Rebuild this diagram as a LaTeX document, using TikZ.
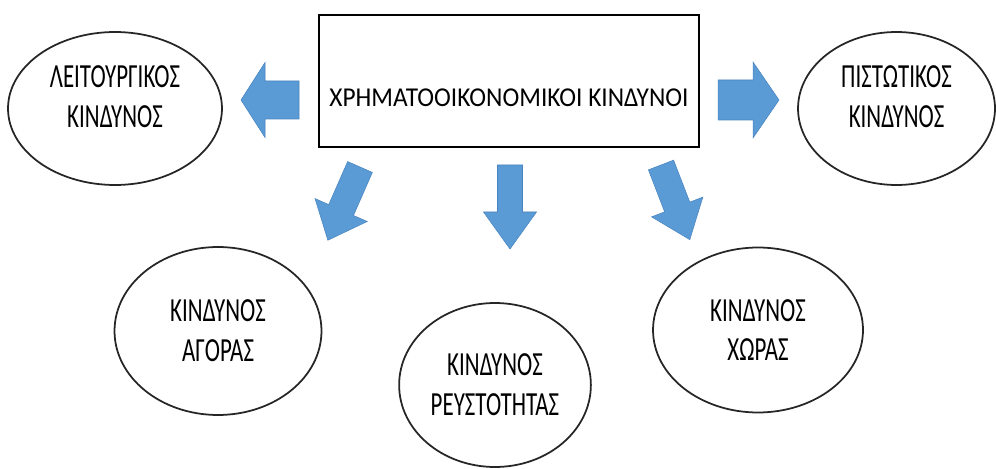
\documentclass[tikz,border=0pt]{standalone}
\usepackage{fontspec}
\newfontfamily\boxfont[FakeStretch=0.93]{Carlito}
\newfontfamily\ovalfont[FakeStretch=0.68]{Carlito}
\usetikzlibrary{shapes.geometric}
\definecolor{arrowblue}{RGB}{91,155,213}
\definecolor{arrowedge}{RGB}{72,132,192}
\tikzset{
  riskoval/.style={ellipse, draw=black!85, line width=1pt, align=center,
    inner sep=2pt, font=\ovalfont\fontsize{19.2}{22.7}\selectfont},
  mainbox/.style={rectangle, draw=black, line width=1.3pt,
    font=\boxfont\fontsize{15.5}{18}\selectfont},
  blkarrow/.style={fill=arrowblue, draw=arrowedge, line width=0.3pt}
}
\begin{document}
\begin{tikzpicture}[x=0.02cm,y=-0.02cm]
            \useasboundingbox (0,0) rectangle (996,469);
            % main box
            \node[mainbox, minimum width=7.6cm, minimum height=2.64cm,
                text height=29pt] (fin) at (509,81)
                {ΧΡΗΜΑΤΟΟΙΚΟΝΟΜΙΚΟΙ ΚΙΝΔΥΝΟΙ};
            % the kinds of risk
            \node[riskoval, minimum width=4.28cm, minimum height=3.06cm,
                text depth=13.6pt] (leit) at (115,108.5)
                {ΛΕΙΤΟΥΡΓΙΚΟΣ\\ΚΙΝΔΥΝΟΣ};
            \node[riskoval, minimum width=3.94cm, minimum height=3.06cm,
                text depth=13.6pt] (pist) at (896.5,108.5)
                {ΠΙΣΤΩΤΙΚΟΣ\\ΚΙΝΔΥΝΟΣ};
            \node[riskoval, minimum width=4.14cm, minimum height=3.36cm]
                (agor) at (218,331) {ΚΙΝΔΥΝΟΣ\\ΑΓΟΡΑΣ};
            \node[riskoval, minimum width=3.6cm, minimum height=3.28cm]
                (reus) at (495,385) {ΚΙΝΔΥΝΟΣ\\ΡΕΥΣΤΟΤΗΤΑΣ};
            \node[riskoval, minimum width=4.2cm, minimum height=3.3cm]
                (chor) at (758,330) {ΚΙΝΔΥΝΟΣ\\ΧΩΡΑΣ};
            % block arrows: tail x/y, angle, length, body, head width, head length
            \foreach \tx/\ty/\ang/\len/\bw/\hw/\hl in
                {299/100/180/58/38/75/24,
                 718/100/0/61/40/76/26,
                 510/165/-90/84/25/53/37,
                 360/167/-113.7/80/27/57/33,
                 661/165/-68.9/80/27/55/35}
            {\filldraw[blkarrow, shift={(\tx,\ty)}, rotate=\ang]
                (0,{-\bw/2}) -- ({\len-\hl},{-\bw/2}) -- ({\len-\hl},{-\hw/2})
                -- (\len,0) -- ({\len-\hl},{\hw/2}) -- ({\len-\hl},{\bw/2})
                -- (0,{\bw/2}) -- cycle;}
            \end{tikzpicture}
\end{document}
